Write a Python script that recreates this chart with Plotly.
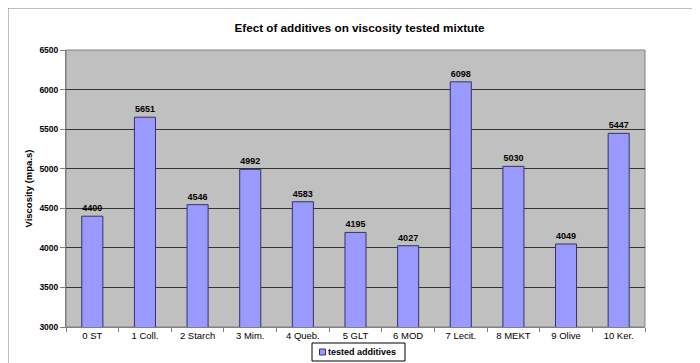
import plotly.graph_objects as go

categories = ["0 ST", "1 Coll.", "2 Starch", "3 Mim.", "4 Queb.", "5 GLT",
              "6 MOD", "7 Lecit.", "8 MEKT", "9 Olive", "10 Ker."]
viscosity = [4400, 5651, 4546, 4992, 4583, 4195, 4027, 6098, 5030, 4049, 5447]
series_name = "tested additives"
y_ticks = [3000, 3500, 4000, 4500, 5000, 5500, 6000, 6500]

FONT = "Liberation Sans, Arial, sans-serif"
BAR_FILL = "#9999FF"
BAR_LINE = "#333366"

# figure geometry (page is offset by the 8px body margin)
W, H = 692, 355
ML, MR, MT, MB = 58, 55, 42, 36
PW, PH = W - ML - MR, H - MT - MB


def px(xp):
    """page pixel x -> paper x"""
    return (xp - 8 - ML) / PW


def py(yp):
    """page pixel y -> paper y"""
    return 1 - (yp - 8 - MT) / PH


fig = go.Figure()
fig.add_trace(go.Bar(
    x=categories, y=viscosity, name=series_name, showlegend=False,
    marker=dict(color=BAR_FILL, line=dict(color=BAR_LINE, width=1)),
    text=[f"<b>{v}</b>" for v in viscosity], textposition="outside",
    textfont=dict(family=FONT, size=9, color="#000000"),
    cliponaxis=False, width=0.4,
))

fig.update_layout(
    width=W, height=H,
    margin=dict(l=ML, r=MR, t=MT, b=MB, autoexpand=False),
    paper_bgcolor="white", plot_bgcolor="#C0C0C0",
    font=dict(family=FONT, color="#000000"),
    title=dict(text="<b>Efect of additives on viscosity tested mixtute</b>",
               x=0.508, xanchor="center", y=0.945, yanchor="middle",
               yref="container", font=dict(size=11.7, family=FONT)),
    showlegend=False,
    xaxis=dict(type="category", tickson="boundaries", ticks="outside", ticklen=4,
               tickcolor="#808080", showline=True, linecolor="#808080", linewidth=1,
               showgrid=False, tickfont=dict(size=9.5, family=FONT), automargin=False),
    yaxis=dict(range=[3000, 6500], tickvals=y_ticks,
               ticktext=[f"<b>{t}</b>" for t in y_ticks],
               ticks="outside", ticklen=5, tickcolor="#808080",
               showline=True, linecolor="#808080", linewidth=1, mirror=False,
               showgrid=True, gridcolor="#333333", gridwidth=1,
               tickfont=dict(size=8.5, family=FONT), automargin=False),
    bargap=0.6,
)

# y-axis title
fig.add_annotation(text="<b>Viscosity (mpa.s)</b>", xref="paper", yref="paper",
                   x=px(28), y=0.5, xanchor="center", yanchor="middle",
                   textangle=-90, showarrow=False, font=dict(size=9.5, family=FONT))

# plot area border
fig.add_shape(type="rect", xref="paper", yref="paper", x0=0, y0=0, x1=1, y1=1,
              line=dict(color="#808080", width=1), layer="below")
# outer chart border (top and left visible)
fig.add_shape(type="line", xref="paper", yref="paper", x0=px(8), x1=px(720), y0=py(8), y1=py(8),
              line=dict(color="#808080", width=1))
fig.add_shape(type="line", xref="paper", yref="paper", x0=px(8), x1=px(8), y0=py(8), y1=py(380),
              line=dict(color="#808080", width=1))

# compact Excel-style legend box
fig.add_shape(type="rect", xref="paper", yref="paper", x0=px(312), x1=px(405),
              y0=py(343), y1=py(361), line=dict(color="#000000", width=1),
              fillcolor="white")
fig.add_shape(type="rect", xref="paper", yref="paper", x0=px(319.5), x1=px(325.5),
              y0=py(349), y1=py(355), line=dict(color=BAR_LINE, width=1),
              fillcolor=BAR_FILL)
fig.add_annotation(text=f"<b>{series_name}</b>", xref="paper", yref="paper",
                   x=px(326), y=py(352), xanchor="left", yanchor="middle",
                   showarrow=False, font=dict(size=9, family=FONT))

fig.write_html("out.html")
